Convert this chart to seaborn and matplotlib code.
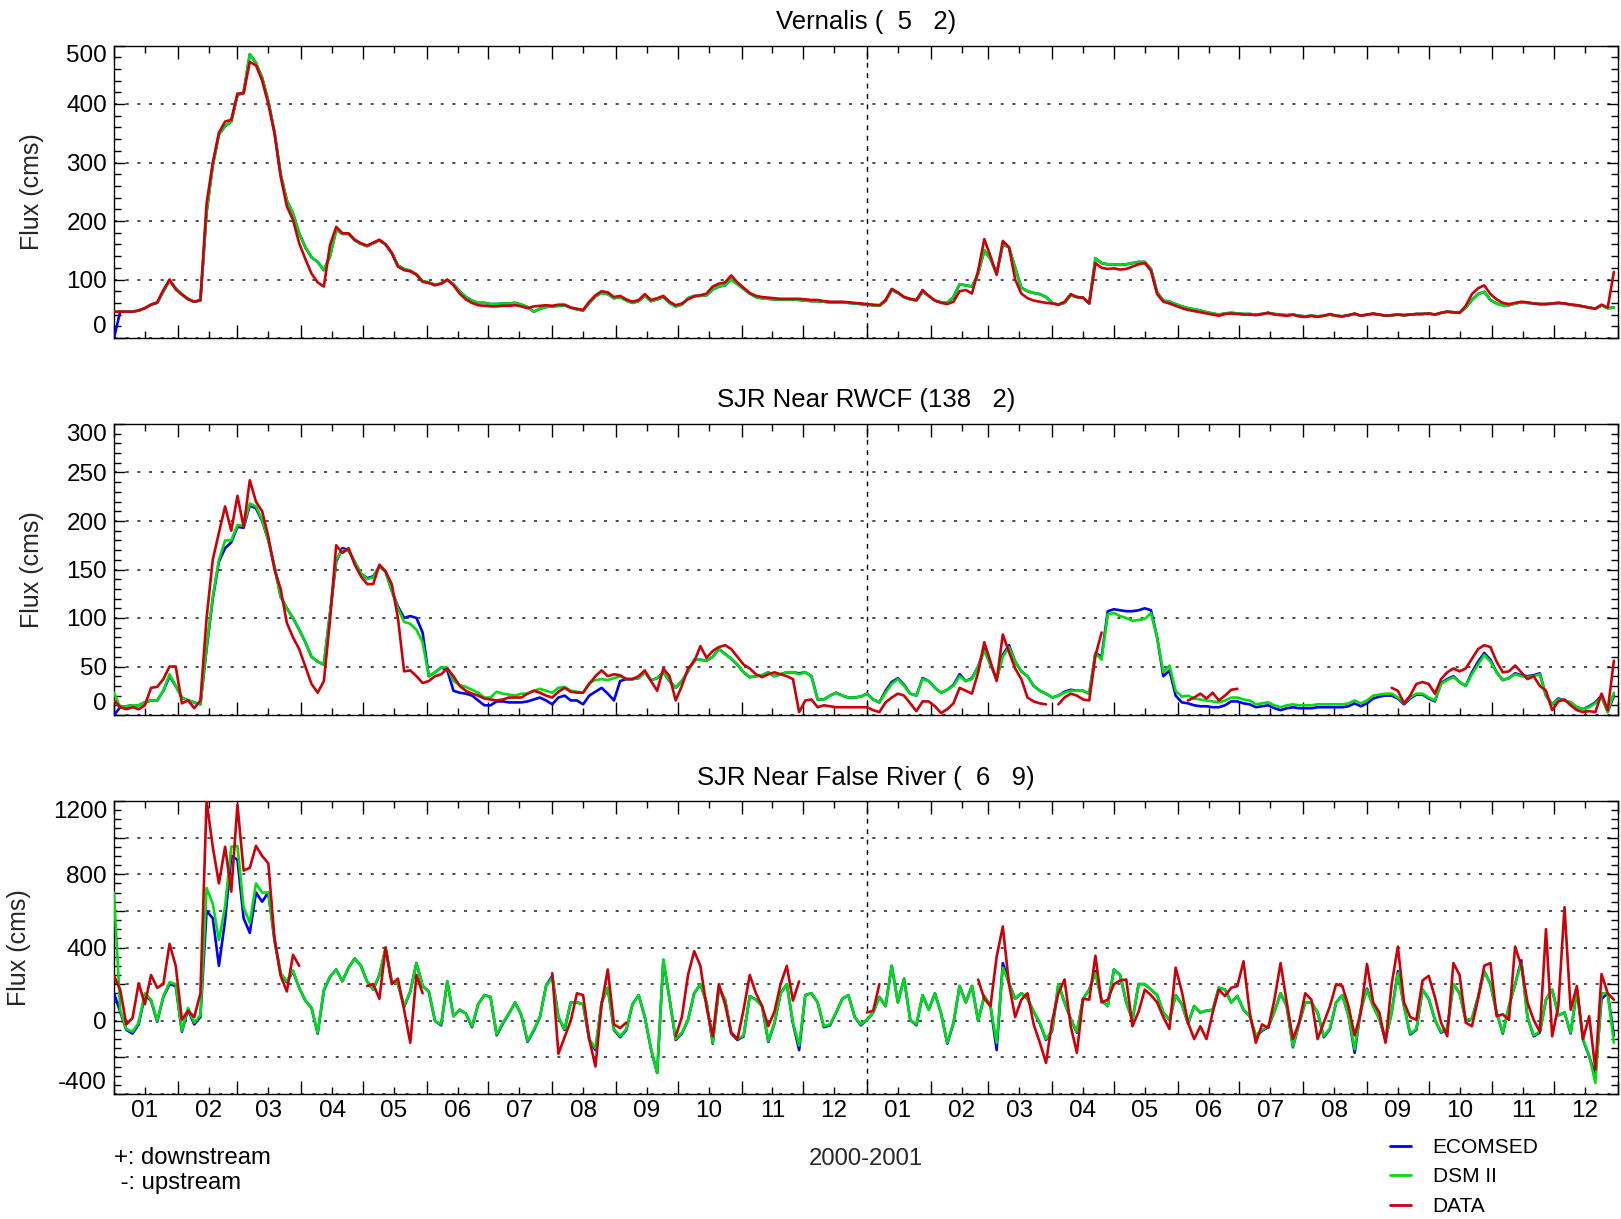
import numpy as np
import pandas as pd
import matplotlib
matplotlib.use("Agg")
import matplotlib.pyplot as plt
import matplotlib.dates as mdates
from matplotlib.ticker import MultipleLocator, FuncFormatter, NullFormatter
from matplotlib.lines import Line2D
from matplotlib import font_manager
import seaborn as sns

nan = np.nan

# Tidally filtered flux (cms), one value every third day from 1 Jan 2000.
STEP_DAYS = 3
START = "2000-01-01"
SERIES_NAMES = ["ECOMSED", "DSM II", "DATA"]
SERIES_COLORS = ["#0000f0", "#00dd10", "#cc0008"]

# ---- Vernalis (5 2) ----
vern_ecomsed = [
    0, 45, 45, 45, 47, 51, 57, 60, 80, 98,
    85, 75, 67, 62, 64, 215, 295, 348, 362, 370,
    415, 420, 485, 470, 445, 405, 352, 280, 235, 213,
    179, 155, 138, 130, 116, 140, 185, 178, 178, 167,
    161, 157, 162, 167, 160, 146, 124, 118, 115, 109,
    97, 95, 91, 93, 99, 92, 80, 70, 64, 60,
    60, 58, 58, 59, 59, 60, 57, 53, 45, 50,
    53, 54, 55, 56, 52, 49, 47, 60, 71, 77,
    75, 68, 70, 64, 60, 63, 72, 63, 66, 70,
    60, 54, 57, 68, 72, 72, 73, 83, 88, 90,
    100, 92, 84, 76, 70, 68, 67, 66, 66, 66,
    66, 65, 64, 63, 63, 62, 61, 61, 61, 60,
    59, 58, 57, 56, 55, 63, 82, 77, 70, 66,
    64, 79, 72, 64, 61, 60, 70, 92, 90, 88,
    110, 150, 135, 110, 160, 155, 120, 86, 80, 77,
    75, 70, 60, 57, 60, 73, 70, 69, 59, 136,
    128, 126, 126, 125, 126, 128, 130, 130, 118, 78,
    64, 62, 58, 54, 51, 49, 47, 44, 42, 40,
    42, 43, 42, 41, 41, 40, 41, 43, 41, 40,
    39, 40, 38, 37, 38, 37, 38, 40, 38, 37,
    39, 41, 38, 40, 41, 40, 38, 39, 40, 39,
    40, 41, 41, 42, 40, 43, 45, 44, 43, 52,
    65, 75, 79, 65, 59, 56, 56, 59, 61, 60,
    59, 58, 58, 59, 60, 59, 57, 56, 54, 52,
    50, 56, 51, 52,
]
vern_dsm = [
    45, 45, 45, 45, 47, 51, 57, 60, 80, 98,
    85, 75, 67, 62, 64, 215, 295, 348, 362, 370,
    415, 420, 485, 470, 445, 405, 352, 280, 235, 213,
    179, 155, 138, 130, 116, 140, 185, 178, 178, 167,
    161, 157, 162, 167, 160, 146, 124, 118, 115, 109,
    97, 95, 91, 93, 99, 92, 80, 70, 64, 60,
    60, 58, 58, 59, 59, 60, 57, 53, 45, 50,
    53, 54, 55, 56, 52, 49, 47, 60, 71, 77,
    75, 68, 70, 64, 60, 63, 72, 63, 66, 70,
    60, 54, 57, 68, 72, 72, 73, 83, 88, 90,
    100, 92, 84, 76, 70, 68, 67, 66, 66, 66,
    66, 65, 64, 63, 63, 62, 61, 61, 61, 60,
    59, 58, 57, 56, 55, 63, 82, 77, 70, 66,
    64, 79, 72, 64, 61, 60, 70, 92, 90, 88,
    110, 150, 135, 110, 160, 155, 120, 86, 80, 77,
    75, 70, 60, 57, 60, 73, 70, 69, 59, 136,
    128, 126, 126, 125, 126, 128, 130, 130, 118, 78,
    64, 62, 58, 54, 51, 49, 47, 44, 42, 40,
    42, 43, 42, 41, 41, 40, 41, 43, 41, 40,
    39, 40, 38, 37, 38, 37, 38, 40, 38, 37,
    39, 41, 38, 40, 41, 40, 38, 39, 40, 39,
    40, 41, 41, 42, 40, 43, 45, 44, 43, 52,
    65, 75, 79, 65, 59, 56, 56, 59, 61, 60,
    59, 58, 58, 59, 60, 59, 57, 56, 54, 52,
    50, 56, 51, 52,
]
vern_data = [
    45, 45, 45, 45, 47, 51, 57, 61, 82, 100,
    83, 74, 66, 62, 65, 230, 300, 351, 370, 373,
    418, 418, 472, 466, 440, 400, 350, 276, 225, 202,
    162, 135, 110, 95, 88, 159, 190, 179, 179, 168,
    162, 158, 163, 168, 160, 145, 122, 116, 114, 108,
    96, 94, 90, 93, 100, 90, 76, 66, 60, 56,
    55, 54, 54, 55, 55, 56, 54, 51, 54, 55,
    56, 55, 57, 57, 52, 50, 48, 62, 73, 80,
    78, 70, 72, 66, 62, 65, 75, 65, 68, 72,
    62, 56, 59, 66, 71, 73, 76, 88, 93, 95,
    107, 95, 86, 77, 72, 70, 69, 68, 67, 67,
    67, 67, 66, 65, 65, 63, 62, 62, 62, 61,
    60, 59, 58, 57, 56, 65, 84, 78, 70, 67,
    65, 82, 72, 64, 60, 58, 62, 80, 82, 76,
    115, 169, 140, 108, 166, 155, 100, 76, 68, 64,
    62, 60, 59, 57, 62, 75, 70, 69, 59, 128,
    120, 118, 119, 117, 118, 122, 126, 128, 115, 75,
    62, 59, 55, 51, 48, 46, 44, 42, 40, 38,
    41, 42, 41, 40, 40, 39, 41, 43, 40, 39,
    38, 40, 37, 36, 38, 36, 38, 41, 38, 37,
    39, 42, 38, 40, 42, 40, 38, 39, 40, 39,
    40, 41, 41, 42, 40, 43, 45, 44, 43, 55,
    75, 85, 90, 75, 66, 60, 58, 60, 62, 61,
    59, 58, 58, 59, 60, 59, 57, 56, 54, 52,
    50, 57, 52, 113,
]

# ---- SJR Near RWCF (138 2) ----
rwcf_ecomsed = [
    0, 8, 9, 10, 10, 13, 15, 15, 25, 40,
    30, 18, 15, 13, 11, 68, 120, 158, 172, 178,
    194, 193, 216, 213, 200, 180, 153, 122, 110, 100,
    88, 75, 60, 55, 52, 105, 158, 172, 170, 158,
    146, 141, 143, 153, 148, 128, 112, 100, 102, 100,
    85, 40, 44, 49, 46, 25, 23, 22, 20, 15,
    10, 10, 14, 14, 13, 13, 13, 14, 16, 18,
    15, 11, 18, 20, 15, 15, 11, 20, 24, 28,
    22, 15, 35, 37, 37, 38, 44, 36, 38, 44,
    35, 28, 35, 45, 57, 57, 56, 60, 68, 63,
    58, 52, 44, 39, 40, 41, 44, 40, 42, 44,
    44, 43, 44, 40, 16, 16, 20, 23, 20, 18,
    18, 19, 22, 16, 13, 25, 34, 38, 31, 22,
    20, 38, 35, 28, 23, 26, 31, 42, 35, 38,
    50, 68, 52, 37, 62, 72, 55, 45, 40, 30,
    25, 22, 18, 20, 24, 26, 25, 25, 22, 64,
    60, 107, 109, 108, 107, 107, 108, 110, 108, 80,
    40, 46, 20, 13, 12, 10, 9, 9, 8, 8,
    10, 14, 14, 12, 11, 8, 9, 10, 7, 5,
    7, 8, 7, 7, 7, 8, 8, 8, 8, 8,
    9, 12, 9, 12, 17, 19, 20, 20, 17, 11,
    17, 21, 21, 17, 14, 33, 37, 40, 34, 30,
    44, 55, 64, 57, 44, 36, 38, 43, 41, 40,
    41, 43, 20, 11, 17, 15, 13, 8, 6, 9,
    13, 20, 3, 20,
]
rwcf_dsm = [
    23, 8, 9, 10, 10, 13, 15, 15, 25, 42,
    30, 18, 15, 13, 11, 70, 122, 160, 180, 180,
    196, 195, 218, 215, 201, 180, 153, 122, 110, 100,
    88, 75, 60, 55, 52, 105, 160, 170, 169, 158,
    146, 140, 142, 153, 148, 128, 110, 96, 94, 88,
    75, 40, 44, 49, 49, 35, 31, 29, 26, 23,
    18, 18, 24, 22, 21, 20, 22, 22, 25, 27,
    25, 23, 28, 29, 25, 24, 23, 33, 36, 37,
    36, 38, 40, 37, 37, 38, 44, 36, 38, 44,
    35, 28, 35, 45, 57, 57, 56, 60, 68, 63,
    58, 52, 44, 39, 40, 41, 44, 40, 42, 44,
    44, 42, 44, 40, 16, 16, 20, 23, 20, 18,
    18, 19, 22, 16, 13, 23, 32, 37, 30, 22,
    20, 37, 35, 28, 23, 26, 30, 40, 35, 37,
    50, 66, 52, 37, 60, 70, 55, 45, 40, 30,
    25, 22, 18, 20, 23, 25, 25, 25, 22, 64,
    57, 104, 105, 102, 100, 97, 98, 99, 105, 80,
    44, 51, 25, 19, 20, 17, 16, 15, 14, 13,
    15, 18, 18, 16, 15, 11, 12, 13, 10, 8,
    10, 11, 10, 10, 10, 11, 11, 11, 11, 11,
    12, 15, 12, 15, 20, 21, 22, 22, 18, 12,
    18, 22, 22, 18, 15, 32, 36, 39, 34, 30,
    42, 52, 62, 55, 44, 36, 38, 42, 40, 39,
    40, 42, 20, 11, 16, 15, 13, 8, 6, 8,
    12, 18, 3, 23,
]
rwcf_data = [
    15, 8, 6, 8, 6, 10, 28, 29, 37, 50,
    50, 12, 15, 7, 15, 100, 160, 188, 215, 190,
    226, 194, 242, 220, 210, 184, 150, 130, 95, 80,
    68, 50, 32, 23, 35, 98, 175, 167, 172, 155,
    143, 135, 135, 155, 148, 135, 100, 45, 46, 40,
    33, 35, 40, 42, 48, 40, 30, 25, 22, 20,
    17, 16, 15, 16, 18, 18, 18, 22, 25, 23,
    20, 18, 24, 28, 24, 23, 23, 32, 40, 46,
    40, 42, 41, 37, 37, 40, 46, 35, 25, 48,
    40, 15, 30, 48, 55, 71, 59, 66, 70, 72,
    68, 60, 52, 48, 42, 39, 42, 44, 42, 40,
    37, 3, 15, 16, 8, 10, 9, 8, 8, 8,
    8, 8, 8, 5, 3, 13, 18, 22, 20, 12,
    4, 14, 14, 9, 2, 6, 12, 28, 25, 22,
    44, 75, 55, 35, 83, 65, 48, 37, 18, 14,
    12, 11, nan, 11, 18, 22, 20, 16, 15, 61,
    85, nan, nan, nan, nan, nan, nan, nan, nan, nan,
    nan, nan, nan, nan, 15, 18, 22, 17, 23, 15,
    20, 26, 27, nan, nan, nan, nan, nan, nan, nan,
    nan, nan, nan, nan, nan, nan, nan, nan, nan, nan,
    nan, nan, nan, nan, nan, nan, nan, 28, 25, 12,
    20, 32, 34, 32, 22, 37, 44, 48, 45, 48,
    58, 68, 72, 70, 55, 44, 45, 51, 44, 37,
    40, 30, 25, 5, 14, 16, 10, 5, 3, 4,
    3, 22, 5, 56,
]

# ---- SJR Near False River (6 9) ----
false_ecomsed = [
    150, 50, -50, -70, -20, 140, 110, -5, 130, 200,
    190, -60, 60, -20, 20, 600, 560, 300, 550, 900,
    880, 560, 480, 700, 650, 700, 440, 255, 210, 270,
    180, 110, 70, -70, 165, 240, 280, 215, 290, 340,
    300, 215, 170, 250, 390, 215, 200, 75, 160, 315,
    190, 160, 0, -25, 215, 25, 60, 40, -35, 90,
    140, 130, -80, -15, 40, 100, 30, -115, -55, 20,
    190, 245, 20, -50, 100, 100, 90, -105, -160, 100,
    180, -50, -90, -50, 90, 140, 20, -155, -285, 330,
    120, -105, -70, 5, 150, 200, 100, -125, 180, 115,
    -70, -105, -85, 135, 115, 80, -115, -15, 150, 200,
    -15, -160, 140, 150, 100, -35, -25, 45, 120, 140,
    20, -25, 5, 45, 130, 80, 300, 100, 230, 5,
    -25, 140, 60, 150, 40, -125, -15, 190, 100, 190,
    0, 135, 80, -160, 315, 205, 120, 150, 120, 50,
    -15, -105, -55, 200, 100, 10, -65, 120, 170, 270,
    110, 80, 280, 250, 100, 5, 200, 200, 170, 140,
    45, 5, 140, 90, -15, 80, 45, 55, 60, 180,
    170, 100, 135, 60, 25, -85, -55, -35, 50, 150,
    80, -145, -15, 100, 100, 45, -90, -45, 100, 140,
    30, -175, 60, 175, 80, 10, -105, 45, 270, 80,
    -75, -50, 170, 120, 5, -65, -45, 200, 150, 5,
    10, 130, 270, 200, 45, -70, 80, 200, 330, 20,
    -85, -65, 115, 170, 30, 45, -70, 170, -105, -195,
    -300, 120, 150, -80,
]
false_dsm = [
    700, 60, -45, -60, -10, 150, 115, 0, 135, 210,
    200, -55, 70, -10, 30, 725, 640, 440, 625, 950,
    955, 620, 535, 750, 700, 700, 450, 260, 215, 275,
    180, 110, 70, -65, 170, 240, 280, 215, 290, 340,
    300, 215, 170, 250, 400, 215, 200, 80, 160, 315,
    190, 160, 0, -20, 215, 25, 60, 40, -30, 90,
    140, 130, -75, -10, 40, 100, 30, -110, -50, 20,
    190, 235, 20, -45, 100, 100, 90, -100, -150, 100,
    180, -45, -85, -45, 90, 140, 20, -150, -285, 335,
    120, -100, -65, 5, 150, 200, 100, -120, 180, 115,
    -65, -100, -80, 135, 115, 80, -110, -10, 150, 200,
    -10, -135, 140, 150, 100, -30, -20, 45, 120, 140,
    20, -20, 5, 45, 130, 80, 300, 100, 230, 5,
    -20, 140, 60, 150, 40, -120, -10, 190, 100, 190,
    0, 135, 80, -120, 290, 205, 120, 150, 120, 50,
    -10, -100, -50, 200, 100, 10, -60, 120, 170, 260,
    110, 80, 280, 250, 100, 5, 200, 200, 170, 140,
    45, 5, 140, 90, -10, 80, 45, 55, 60, 180,
    170, 100, 135, 60, 25, -80, -50, -30, 50, 150,
    80, -140, -10, 100, 100, 45, -85, -40, 100, 140,
    30, -155, 60, 170, 80, 10, -100, 45, 260, 80,
    -70, -45, 170, 120, 5, -60, -40, 200, 150, 5,
    10, 130, 270, 200, 45, -65, 80, 200, 315, 20,
    -80, -60, 115, 170, 30, 45, -65, 170, -100, -190,
    -340, 150, 150, -120,
]
false_data = [
    245, 170, -20, 15, 205, 90, 250, 180, 200, 420,
    300, 5, 55, 20, 150, 1200, 950, 750, 950, 705,
    1180, 820, 835, 955, 900, 860, 450, 245, 160, 360,
    300, nan, nan, nan, nan, nan, nan, nan, nan, nan,
    nan, 190, 200, 120, 400, 200, 230, 60, -120, 250,
    150, nan, nan, nan, nan, nan, nan, nan, nan, nan,
    nan, nan, nan, nan, nan, nan, nan, nan, nan, nan,
    nan, 260, -180, -90, 0, 150, 140, -100, -250, 90,
    280, -20, -40, -10, nan, nan, nan, nan, nan, nan,
    nan, -85, 20, 250, 380, 300, 75, -85, 200, 90,
    -65, -100, 60, 250, 150, 80, -30, 50, 200, 300,
    110, 215, nan, nan, nan, nan, nan, nan, nan, nan,
    nan, nan, 45, 55, 200, nan, nan, nan, nan, nan,
    nan, nan, nan, nan, nan, nan, nan, nan, nan, nan,
    225, 120, 80, 350, 515, 200, 20, 115, 150, -20,
    -120, -230, 0, 150, 225, -30, -175, 120, 115, 355,
    100, 115, 200, 220, 225, -30, 50, 170, 140, 100,
    20, -45, 290, 160, -10, -100, -30, -100, 45, 170,
    135, 180, 190, 325, 45, -120, -20, -40, 115, 315,
    100, -100, -10, 150, 115, -100, -10, 80, 200, 190,
    80, -80, 45, 310, 100, 45, -120, 200, 405, 100,
    20, 5, 220, 245, 130, -10, -85, 315, 250, -10,
    -30, 120, 300, 315, 25, 35, 5, 405, 300, 100,
    5, -60, 500, -85, 80, 620, 60, 190, -100, 25,
    -265, 255, 150, 115,
]

PANELS = [
    dict(title="Vernalis (  5   2)",
         series=[vern_ecomsed, vern_dsm, vern_data],
         ylim=(0, 500), grid_step=100, label_step=100, minor_step=20),
    dict(title="SJR Near RWCF (138   2)",
         series=[rwcf_ecomsed, rwcf_dsm, rwcf_data],
         ylim=(0, 300), grid_step=50, label_step=50, minor_step=10),
    dict(title="SJR Near False River (  6   9)",
         series=[false_ecomsed, false_dsm, false_data],
         ylim=(-400, 1200), grid_step=200, label_step=400, minor_step=50),
]

sns.set_theme(style="ticks")
available = {f.name for f in font_manager.fontManager.ttflist}
if "Liberation Sans Narrow" in available:
    FAMILY, SCALE = ["Liberation Sans Narrow", "DejaVu Sans"], 1.18
else:
    FAMILY, SCALE = ["Liberation Sans", "DejaVu Sans"], 1.0
FS_TICK, FS_TITLE, FS_LABEL, FS_NOTE, FS_LEG = (s * SCALE for s in (17.5, 18.5, 18, 17.2, 15))
plt.rcParams["font.family"] = FAMILY
plt.rcParams["lines.scale_dashes"] = False
plt.rcParams["axes.linewidth"] = 1.0
plt.rcParams["text.color"] = "black"
plt.rcParams["xtick.color"] = "black"
plt.rcParams["ytick.color"] = "black"


def series_frame(values):
    dates = pd.date_range(START, periods=len(values), freq=f"{STEP_DAYS}D")
    df = pd.DataFrame({"date": dates, "flux": np.asarray(values, dtype=float)})
    # break the line wherever the record has a gap
    df["run"] = df["flux"].isna().cumsum()
    return df.dropna()


fig = plt.figure(figsize=(16.21, 12.19), dpi=100)
W, H = 1621.0, 1219.0
left, right = 114 / W, 1618 / W
boxes = [(45.5, 338), (424, 715), (801, 1094)]

x0, x1 = pd.Timestamp("2000-01-01"), pd.Timestamp("2002-01-01")
axes = []
for k, (spec, (top_px, bot_px)) in enumerate(zip(PANELS, boxes)):
    ax = fig.add_axes([left, 1 - bot_px / H, right - left, (bot_px - top_px) / H])
    axes.append(ax)
    for values, color in zip(spec["series"], SERIES_COLORS):
        sns.lineplot(data=series_frame(values), x="date", y="flux", units="run",
                     estimator=None, color=color, linewidth=1.9, ax=ax,
                     legend=False, zorder=3)

    ax.set_xlim(x0, x1)
    ax.set_ylim(*spec["ylim"])
    ax.axvline(pd.Timestamp("2001-01-01"), color="black", lw=1.0,
               ls=(0, (3.5, 4)), zorder=1)

    # y axis
    ax.yaxis.set_major_locator(MultipleLocator(spec["grid_step"]))
    ax.yaxis.set_minor_locator(MultipleLocator(spec["minor_step"]))
    step = spec["label_step"]
    ax.yaxis.set_major_formatter(
        FuncFormatter(lambda v, p, s=step: f"{int(round(v))}" if round(v) % s == 0 else ""))
    ax.yaxis.grid(True, which="major", color="0.25", lw=1.3, ls=(0, (2.2, 6.2)))
    ax.set_ylabel("Flux (cms)", fontsize=FS_LABEL, labelpad=16)

    # x axis: month boundaries long ticks, month labels at mid-month
    ax.xaxis.set_major_locator(mdates.MonthLocator())
    ax.xaxis.set_major_formatter(NullFormatter())
    ax.xaxis.set_minor_locator(mdates.MonthLocator(bymonthday=16))
    if k == 2:
        ax.xaxis.set_minor_formatter(mdates.DateFormatter("%m"))
    else:
        ax.xaxis.set_minor_formatter(NullFormatter())
    ax.set_xlabel("")

    ax.tick_params(axis="both", which="both", direction="in", top=True,
                   right=True, width=1.0, labelsize=FS_TICK)
    ax.tick_params(axis="x", which="major", length=9.5)
    ax.tick_params(axis="x", which="minor", length=5, pad=4)
    ax.tick_params(axis="y", which="major", length=8, pad=5)
    ax.tick_params(axis="y", which="minor", length=5)
    for side in ax.spines.values():
        side.set_color("black")
        side.set_linewidth(1.0)

    ax.set_title(spec["title"], fontsize=FS_TITLE, pad=0,
                 y=1 + 23.5 / (bot_px - top_px), va="center")

axes[2].set_xlabel("2000-2001", fontsize=FS_NOTE, labelpad=19)

fig.text(114 / W, 1 - 1158 / H, "+: downstream", ha="left", va="center", fontsize=FS_NOTE)
fig.text(114 / W, 1 - 1183 / H, " -: upstream", ha="left", va="center", fontsize=FS_NOTE)

handles = [Line2D([], [], color=c, lw=2.0) for c in SERIES_COLORS]
fig.legend(handles, SERIES_NAMES, loc="center left",
           bbox_to_anchor=(1390 / W, 1 - 1177 / H), frameon=False,
           fontsize=FS_LEG, handlelength=1.0, handletextpad=1.05,
           labelspacing=0.5, borderpad=0, borderaxespad=0)

# edge labels sit inside the frame, as on the original plotting system
fig.canvas.draw()
for ax, spec in zip(axes, PANELS):
    lo, hi = spec["ylim"]
    for lab in ax.get_yticklabels():
        if lab.get_text() == str(hi):
            lab.set_va("top")
        elif lab.get_text() == str(lo):
            lab.set_va("bottom")

fig.savefig("out.png", dpi=100)
